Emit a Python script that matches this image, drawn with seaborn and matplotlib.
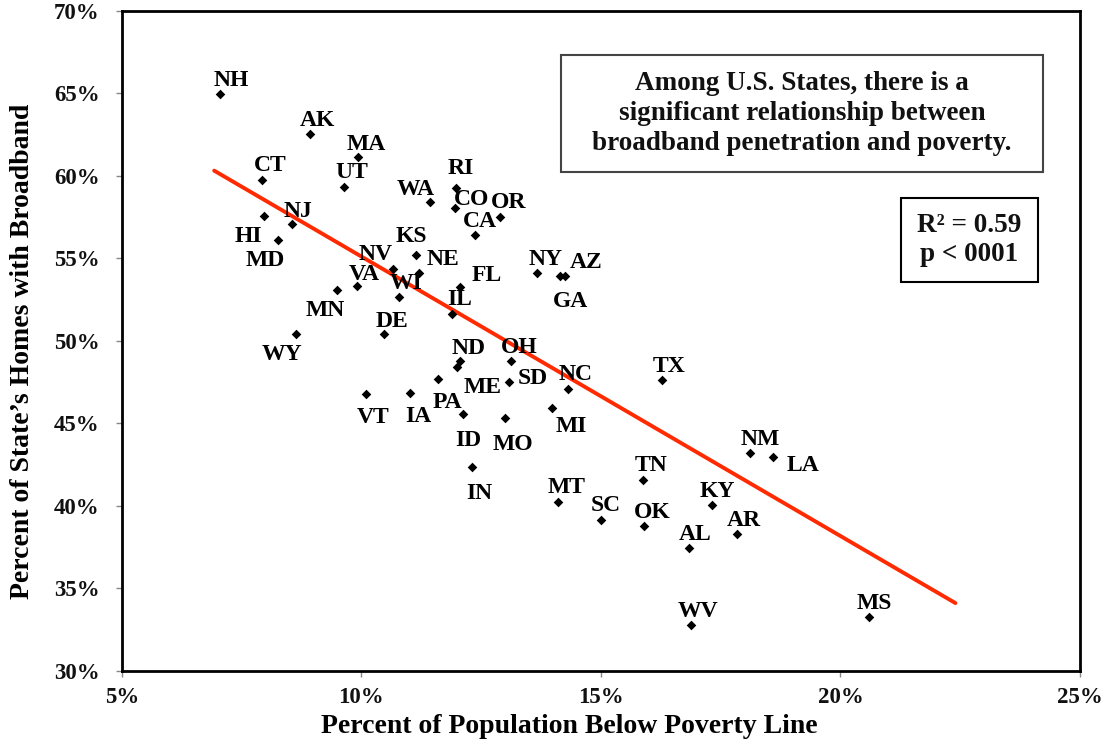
import numpy as np
import pandas as pd
import matplotlib
matplotlib.use("Agg")
import matplotlib.pyplot as plt
from matplotlib.patches import Rectangle
import seaborn as sns

# ---------------- data ----------------
states = ["NH", "AK", "MA", "CT", "UT", "RI", "WA", "CO", "OR", "NJ",
          "CA", "HI", "MD", "KS", "NV", "NE", "VA", "WI", "FL", "NY",
          "AZ", "GA", "MN", "IL", "DE", "WY", "ND", "OH", "NC", "TX",
          "SD", "ME", "PA", "VT", "IA", "MI", "ID", "MO", "NM", "LA",
          "TN", "IN", "MT", "KY", "SC", "OK", "AR", "AL", "WV", "MS"]
poverty = [7.06, 8.93, 9.93, 7.93, 9.64, 11.97, 11.43, 11.96, 12.90, 8.55,
           12.38, 7.96, 8.27, 11.15, 10.66, 11.20, 9.92, 10.78, 12.07, 13.67,
           14.26, 14.14, 9.50, 11.90, 10.48, 8.64, 12.05, 13.12, 14.31, 16.27,
           13.08, 12.00, 11.60, 10.09, 11.02, 13.98, 12.13, 12.99, 18.12, 18.59,
           15.88, 12.32, 14.10, 17.31, 15.01, 15.90, 17.85, 16.84, 16.88, 20.59]
broadband = [64.95, 62.53, 61.13, 59.74, 59.31, 59.29, 58.44, 58.08, 57.53, 57.11,
             56.44, 57.58, 56.14, 55.23, 54.38, 54.10, 53.31, 52.63, 53.29, 54.12,
             53.94, 53.94, 53.07, 51.64, 50.41, 50.42, 48.75, 48.77, 47.09, 47.64,
             47.52, 48.44, 47.68, 46.79, 46.81, 45.90, 45.58, 45.33, 43.23, 42.95,
             41.58, 42.35, 40.22, 40.04, 39.15, 38.77, 38.26, 37.41, 32.75, 33.23]
trend_x = [6.93, 22.40]
trend_y = [60.32, 34.10]
x_ticks = [5, 10, 15, 20, 25]
y_ticks = [30, 35, 40, 45, 50, 55, 60, 65, 70]
x_label = "Percent of Population Below Poverty Line"
y_label = "Percent of State\u2019s Homes with Broadband"
note_text = "Among U.S. States, there is a\nsignificant relationship between\nbroadband penetration and poverty."
stat_text = "R\u00b2 = 0.59\np < 0001"

# label placement (pixel offsets from each point: right, down)
default_off = (7, -16)
label_off = {
    "NH": (11, -16), "AK": (7, -16), "MA": (8, -15), "CT": (8, -17), "UT": (8, -17),
    "RI": (5, -22), "WA": (-14, -15), "CO": (16, -11), "OR": (8, -17), "NJ": (6, -15),
    "CA": (5, -16), "HI": (-15, 18), "MD": (-13, 18), "KS": (-5, -21), "NV": (-17, -17),
    "NE": (24, -16), "VA": (7, -14), "WI": (7, -16), "FL": (26, -14), "NY": (8, -16),
    "AZ": (21, -16), "GA": (11, 23), "MN": (-12, 18), "IL": (7, -17), "DE": (8, -15),
    "WY": (-14, 18), "ND": (9, -15), "OH": (8, -16), "NC": (8, -17), "TX": (7, -16),
    "SD": (24, -6), "ME": (26, 18), "PA": (9, 21), "VT": (8, 21), "IA": (8, 21),
    "MI": (19, 16), "ID": (5, 24), "MO": (8, 24), "NM": (10, -16), "LA": (30, 6),
    "TN": (8, -17), "IN": (7, 24), "MT": (9, -17), "KY": (6, -16), "SC": (4, -17),
    "OK": (8, -16), "AR": (6, -16), "AL": (6, -16), "WV": (7, -16), "MS": (6, -16),
}

df = pd.DataFrame({"state": states, "poverty": poverty, "broadband": broadband})
trend = pd.DataFrame({"x": trend_x, "y": trend_y})

# ---------------- style ----------------
sns.set_theme(style="white")
plt.rcParams["font.family"] = ["Liberation Serif", "DejaVu Serif"]
plt.rcParams["font.weight"] = "bold"

fig = plt.figure(figsize=(11.04, 7.44), dpi=100)
ax = fig.add_axes([121.7 / 1104, 1 - 670.7 / 744, 958.3 / 1104, 659.7 / 744])

sns.lineplot(data=trend, x="x", y="y", ax=ax, color="#FF2A00", linewidth=2.8, zorder=2)
sns.scatterplot(data=df, x="poverty", y="broadband", ax=ax, marker="D", s=24,
                color="black", linewidth=0, zorder=3)

for s, xv, yv in zip(states, poverty, broadband):
    dx, dy = label_off.get(s, default_off)
    ax.annotate(s, (xv, yv), xytext=(dx, -dy), textcoords="offset pixels",
                ha="center", va="center_baseline", fontsize=17, fontweight="bold",
                color="black", zorder=4)

ax.set_xlim(5, 25)
ax.set_ylim(30, 70)
ax.set_xticks(x_ticks)
ax.set_yticks(y_ticks)
ax.set_xticklabels([f"{t}%" for t in x_ticks], fontsize=16.5, fontweight="bold", color="#111111")
ax.set_yticklabels([f"{t}%" for t in y_ticks], fontsize=16.5, fontweight="bold", color="#111111")
ax.tick_params(axis="both", which="major", direction="out", length=4, width=1,
               color="#888888", bottom=True, left=True)
ax.tick_params(axis="y", pad=12)
ax.tick_params(axis="x", pad=8)

for side in ["top", "right", "bottom", "left"]:
    ax.spines[side].set_visible(True)
    ax.spines[side].set_color("black")
    ax.spines[side].set_linewidth(2)

ax.set_xlabel(x_label, fontsize=20, fontweight="bold", color="black")
ax.set_ylabel(y_label, fontsize=20, fontweight="bold", color="black")
ax.xaxis.set_label_coords(0.4668, -0.0853)
ax.xaxis.label.set_va("center")
ax.yaxis.set_label_coords(-0.103, 0.4846)
ax.yaxis.label.set_va("center")

# note box
ax.add_patch(Rectangle((0.4581, 0.7564), 0.9617 - 0.4581, 0.9333 - 0.7564,
                       transform=ax.transAxes, fill=True, facecolor="white",
                       edgecolor="#444444", linewidth=1.5, zorder=5))
ax.text((0.4581 + 0.9617) / 2, (0.7564 + 0.9333) / 2, note_text, transform=ax.transAxes,
        ha="center", va="center", fontsize=19.5, fontweight="bold", linespacing=1.25,
        color="#111111", zorder=6)

# stats box
ax.add_patch(Rectangle((0.8132, 0.5897), 0.9559 - 0.8132, 0.7161 - 0.5897,
                       transform=ax.transAxes, fill=True, facecolor="white",
                       edgecolor="black", linewidth=1.5, zorder=5))
ax.text((0.8132 + 0.9559) / 2, (0.5897 + 0.7161) / 2, stat_text, transform=ax.transAxes,
        ha="center", va="center", fontsize=19.5, fontweight="bold", linespacing=1.2,
        color="#111111", zorder=6)

fig.savefig("out.png", dpi=100)
